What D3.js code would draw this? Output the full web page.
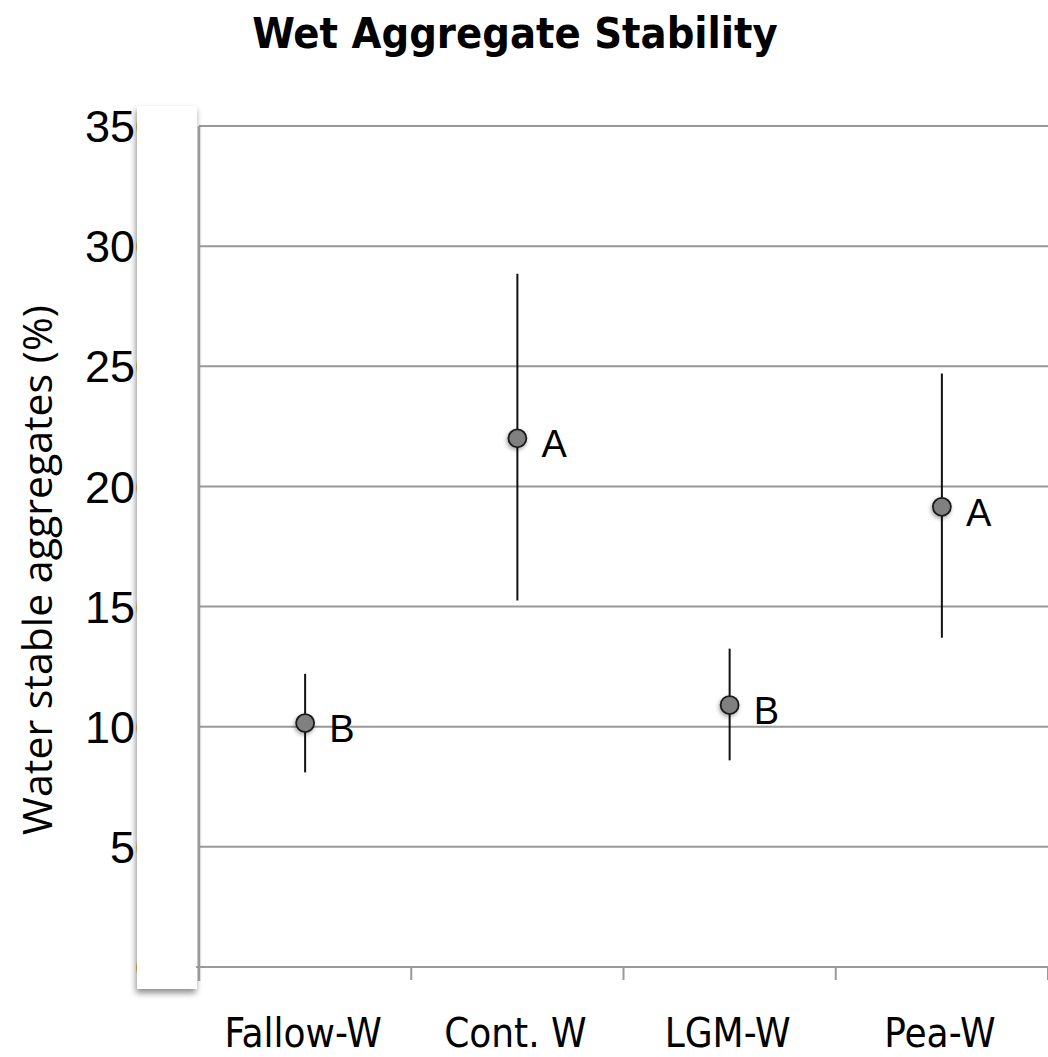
<!DOCTYPE html>
<html>
<head>
<meta charset="utf-8">
<script src="https://cdn.jsdelivr.net/npm/d3@7"></script>
<style>
  body { margin: 0; background: #fff; }
  svg { display: block; }
</style>
</head>
<body>
<div id="chart"></div>
<script>
(function() {
  'use strict';

  /* ---- data ---- */

  var categories = ['Fallow-W', 'Cont. W', 'LGM-W', 'Pea-W'];
  var means = [10.15, 22.0, 10.9, 19.15];
  var upper = [12.2, 28.85, 13.25, 24.7];
  var lower = [8.1, 15.25, 8.6, 13.7];
  var letters = ['B', 'A', 'B', 'A'];
  var yTickValues = [0, 5, 10, 15, 20, 25, 30, 35];
  var yTickLabels = ['0', '50', '100', '150', '200', '250', '300', '350'];

  /* ---- frame ---- */

  var width = 1048;
  var height = 1057;
  var plot = { left: 199, right: 1048, top: 126, bottom: 967 };

  var svg = d3.select('#chart')
    .append('svg')
    .attr('width', width)
    .attr('height', height);

  var defs = svg.append('defs');

  defs.append('filter')
    .attr('id', 'boxShadow')
    .attr('x', '-50%').attr('y', '-5%')
    .attr('width', '200%').attr('height', '110%')
    .append('feDropShadow')
    .attr('dx', -1).attr('dy', 4)
    .attr('stdDeviation', 3)
    .attr('flood-color', '#000')
    .attr('flood-opacity', 0.45);

  defs.append('filter')
    .attr('id', 'dotShadow')
    .attr('x', '-100%').attr('y', '-100%')
    .attr('width', '300%').attr('height', '300%')
    .append('feDropShadow')
    .attr('dx', -1).attr('dy', 2)
    .attr('stdDeviation', 2)
    .attr('flood-color', '#000')
    .attr('flood-opacity', 0.35);

  /* ---- scales ---- */

  var x = d3.scaleBand()
    .domain(categories)
    .range([plot.left, plot.right])
    .padding(0);

  var y = d3.scaleLinear()
    .domain([0, 35])
    .range([plot.bottom, plot.top]);

  /* ---- gridlines ---- */

  svg.append('g')
    .selectAll('line')
    .data(yTickValues.filter(function(d) { return d > 0; }))
    .join('line')
    .attr('x1', plot.left)
    .attr('x2', plot.right)
    .attr('y1', function(d) { return y(d); })
    .attr('y2', function(d) { return y(d); })
    .attr('stroke', '#999')
    .attr('stroke-width', 2);

  /* ---- y axis labels (mostly hidden by the white box) ---- */

  svg.append('g')
    .selectAll('text')
    .data(yTickValues)
    .join('text')
    .attr('x', 160)
    .attr('y', function(d) { return y(d); })
    .attr('dy', '0.36em')
    .attr('text-anchor', 'end')
    .attr('font-family', 'Liberation Sans, Arial, sans-serif')
    .attr('font-size', 45)
    .attr('fill', '#000')
    .text(function(d, i) { return yTickLabels[i]; });

  /* ---- white box with shadow over the labels ---- */

  svg.append('rect')
    .attr('x', 137)
    .attr('y', 106)
    .attr('width', 60)
    .attr('height', 883)
    .attr('fill', '#fff')
    .attr('filter', 'url(#boxShadow)');

  /* ---- axes ---- */

  var yAxis = d3.axisLeft(y)
    .tickValues([])
    .tickSizeOuter(0);

  svg.append('g')
    .attr('transform', 'translate(' + plot.left + ',0)')
    .call(yAxis)
    .call(function(g) {
      g.select('.domain')
        .attr('stroke', '#999')
        .attr('stroke-width', 2.5)
        .attr('d', 'M0,' + plot.top + 'V' + (plot.bottom + 14));
    });

  var xTicks = categories.map(function(c) { return x(c); }).concat([plot.right]);

  var xAxis = d3.axisBottom(x)
    .tickValues([])
    .tickSizeOuter(0);

  svg.append('g')
    .attr('transform', 'translate(0,' + plot.bottom + ')')
    .call(xAxis)
    .call(function(g) {
      g.select('.domain')
        .attr('stroke', '#999')
        .attr('stroke-width', 2)
        .attr('d', 'M' + (plot.left - 3) + ',0H' + plot.right);
    });

  svg.append('g')
    .selectAll('line')
    .data(xTicks)
    .join('line')
    .attr('x1', function(d) { return d; })
    .attr('x2', function(d) { return d; })
    .attr('y1', plot.bottom)
    .attr('y2', plot.bottom + 13)
    .attr('stroke', '#999')
    .attr('stroke-width', 2);

  svg.append('g')
    .selectAll('text')
    .data(categories)
    .join('text')
    .attr('x', function(d) { return x(d) + x.bandwidth() / 2 - 2; })
    .attr('y', 1047)
    .attr('text-anchor', 'middle')
    .attr('font-family', 'Liberation Sans Narrow, DejaVu Sans Condensed, Arial Narrow, sans-serif')
    .attr('font-size', 40)
    .attr('fill', '#000')
    .text(function(d) { return d; });

  /* ---- error bars ---- */

  var cx = function(d, i) { return x(categories[i]) + x.bandwidth() / 2; };

  svg.append('g')
    .selectAll('line')
    .data(means)
    .join('line')
    .attr('x1', cx)
    .attr('x2', cx)
    .attr('y1', function(d, i) { return y(upper[i]); })
    .attr('y2', function(d, i) { return y(lower[i]); })
    .attr('stroke', '#111')
    .attr('stroke-width', 2);

  /* ---- points ---- */

  svg.append('g')
    .selectAll('circle')
    .data(means)
    .join('circle')
    .attr('cx', cx)
    .attr('cy', function(d) { return y(d); })
    .attr('r', 9)
    .attr('fill', '#808080')
    .attr('stroke', '#1a1a1a')
    .attr('stroke-width', 1.8)
    .attr('filter', 'url(#dotShadow)');

  /* ---- significance letters ---- */

  svg.append('g')
    .selectAll('text')
    .data(means)
    .join('text')
    .attr('x', function(d, i) { return cx(d, i) + 24; })
    .attr('y', function(d) { return y(d); })
    .attr('dy', '0.5em')
    .attr('font-family', 'Liberation Sans, Arial, sans-serif')
    .attr('font-size', 38)
    .attr('fill', '#000')
    .text(function(d, i) { return letters[i]; });

  /* ---- titles ---- */

  svg.append('text')
    .attr('x', 515)
    .attr('y', 48)
    .attr('text-anchor', 'middle')
    .attr('font-family', 'Liberation Sans Narrow, DejaVu Sans Condensed, Arial Narrow, sans-serif')
    .attr('font-weight', 'bold')
    .attr('font-size', 43)
    .attr('fill', '#000')
    .text('Wet Aggregate Stability');

  svg.append('text')
    .attr('transform', 'translate(52,570) rotate(-90)')
    .attr('text-anchor', 'middle')
    .attr('font-family', 'Open Sans, Noto Sans, sans-serif')
    .attr('font-size', 41)
    .attr('fill', '#000')
    .text('Water stable aggregates (%)');
})();
</script>
</body>
</html>
